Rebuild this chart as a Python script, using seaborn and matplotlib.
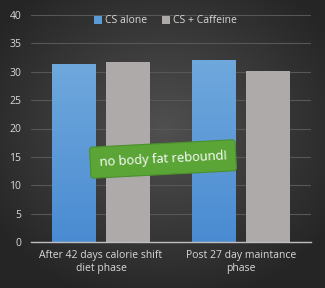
import numpy as np
import pandas as pd
import matplotlib
matplotlib.use("Agg")
import matplotlib.pyplot as plt
import seaborn as sns
from matplotlib.colors import LinearSegmentedColormap

categories = ["After 42 days calorie shift\ndiet phase", "Post 27 day maintance\nphase"]
series = ["CS alone", "CS + Caffeine"]
cs_alone = [31.4, 32.1]
cs_caffeine = [31.7, 30.1]
yticks = [0, 5, 10, 15, 20, 25, 30, 35, 40]

df = pd.DataFrame({
    "phase": categories * 2,
    "group": [series[0]] * 2 + [series[1]] * 2,
    "value": cs_alone + cs_caffeine,
})

sns.set_theme(style="dark")
plt.rcParams['font.family'] = ['Open Sans', 'DejaVu Sans']

W, H = 325, 288
fig = plt.figure(figsize=(W / 100, H / 100), dpi=100)

# radial gradient background
bg = fig.add_axes([0, 0, 1, 1], zorder=-10)
yy, xx = np.mgrid[0:H, 0:W]
r = np.sqrt(((xx - W * 0.5) / (W * 0.62)) ** 2 + ((yy - H * 0.45) / (H * 0.62)) ** 2)
r = np.clip(r, 0, 1)
c0 = np.array([0x50, 0x50, 0x50]) / 255
c1 = np.array([0x25, 0x25, 0x25]) / 255
img = c0[None, None, :] * (1 - r[..., None]) + c1[None, None, :] * r[..., None]
bg.imshow(img, aspect="auto", extent=[0, 1, 0, 1])
bg.set_axis_off()

ax = fig.add_axes([31 / W, 1 - 242 / H, (311 - 31) / W, (242 - 15) / H])
ax.patch.set_alpha(0)

palette = {series[0]: "#5b9bd5", series[1]: "#aeaaaa"}
sns.barplot(data=df, x="phase", y="value", hue="group", palette=palette,
            width=0.77, gap=0.2, ax=ax, legend=True, saturation=1, linewidth=0,
            edgecolor="none")

ax.set_ylim(0, 40)
ax.set_yticks(yticks)
ax.set_xlim(-0.5, 1.5)
ax.grid(axis="y", color="#575757", linewidth=0.8)
ax.grid(axis="x", visible=False)
ax.set_axisbelow(True)
for s in ["top", "right", "left"]:
    ax.spines[s].set_visible(False)
ax.spines["bottom"].set_color("#bfbfbf")
ax.spines["bottom"].set_linewidth(1)
ax.tick_params(axis="y", colors="#d9d9d9", labelsize=7.5, length=0, pad=7)
ax.tick_params(axis="x", colors="#d9d9d9", labelsize=7.5, length=0, pad=6)
ax.set_xlabel("")
ax.set_ylabel("")

# gradient for blue bars
blue_cmap = LinearSegmentedColormap.from_list("b", ["#4a8bd2", "#6fa8dc"])
for p in ax.patches:
    fc = p.get_facecolor()
    if abs(fc[2] - 0xd5 / 255) < 0.02 and p.get_height() > 1:
        x0, y0 = p.get_x(), p.get_y()
        w, h = p.get_width(), p.get_height()
        grad = np.linspace(0, 1, 100).reshape(-1, 1)
        im = ax.imshow(grad, cmap=blue_cmap, origin="lower", aspect="auto",
                       extent=[x0, x0 + w, y0, y0 + h], zorder=p.get_zorder() + 0.1)
        im.set_clip_path(p)
ax.set_xlim(-0.5, 1.5)
ax.set_ylim(0, 40)

leg = ax.legend(loc="upper center", bbox_to_anchor=(0.48, 1.04), ncol=2, frameon=False,
                fontsize=7.5, handlelength=0.8, handleheight=0.8, handletextpad=0.3,
                columnspacing=1.4, labelcolor="#d9d9d9")

# green callout
fig_ax = fig.add_axes([0, 0, 1, 1], zorder=10)
fig_ax.set_xlim(0, W)
fig_ax.set_ylim(H, 0)
fig_ax.set_axis_off()
fig_ax.text(163, 159, "no body fat rebound!", ha="center", va="center", rotation=3,
            fontsize=9.3, color="white", family=['Open Sans', 'DejaVu Sans'],
            bbox=dict(boxstyle="round,pad=0.7,rounding_size=0.25", fc="#5aa536", ec="#4c8f2c", lw=0.8))

fig.savefig("out.png", dpi=100)
